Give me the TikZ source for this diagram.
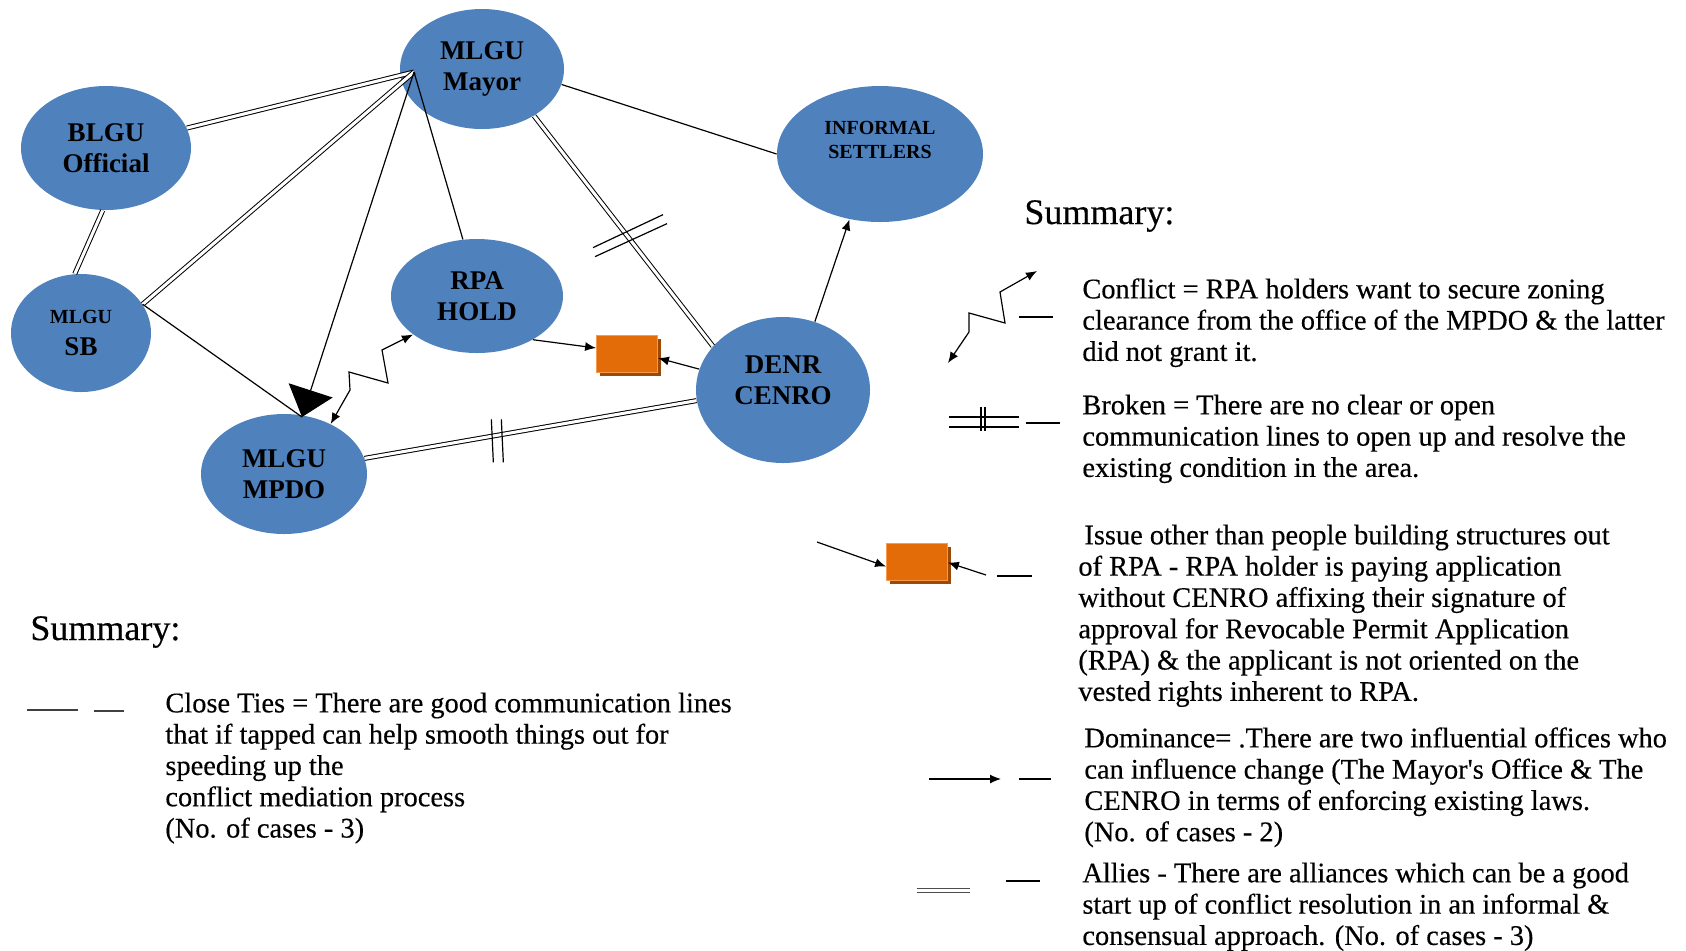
\documentclass[tikz,border=0pt]{standalone}
\usepackage{fontspec}
\setmainfont{Liberation Serif}
\newfontfamily\keyfont[FakeBold=0.35]{Liberation Serif}
\usetikzlibrary{arrows.meta,shapes.geometric,calc,shadows}
\definecolor{ActorBlue}{HTML}{4F81BD}
\definecolor{IssueOrange}{HTML}{E36C09}
\definecolor{IssueEdge}{HTML}{F59A4E}
\definecolor{IssueShade}{HTML}{9C4A06}

\tikzset{
  actor/.style={ellipse,fill=ActorBlue,inner sep=0pt,align=center,
    font=\fontsize{13.5}{15.6}\selectfont\bfseries},
  tie/.style={line width=0.6pt},
  ally/.style={line width=0.5pt,double,double distance=1.5pt},
  issuebox/.style={rectangle,fill=IssueOrange,draw=IssueEdge,line width=0.4pt,
    minimum width=30.5pt,minimum height=18.5pt,
    drop shadow={shadow xshift=1.5pt,shadow yshift=-2pt,fill=IssueShade,opacity=1}},
  keytext/.style={anchor=north west,inner sep=0pt,align=left,
    font=\keyfont\fontsize{14.2}{15.65}\selectfont},
  keyhead/.style={anchor=west,inner sep=0pt,font=\keyfont\fontsize{18}{21}\selectfont},
}

\begin{document}
\begin{tikzpicture}[x=0.5pt,y=-0.5pt,>={Latex[length=5.5pt,width=4.5pt]}]
  \useasboundingbox (0,0) rectangle (1686,950);

  \node[actor,minimum width=82pt,minimum height=60pt] (mayor) at (482,69) {MLGU\\Mayor};
  \node[actor,minimum width=85pt,minimum height=62pt] (blgu) at (106,148) {BLGU\\Official};
  \node[actor,minimum width=70pt,minimum height=59pt] (sb) at (81,333) {{\fontsize{10}{12}\selectfont MLGU}\\SB};
  \node[actor,minimum width=86pt,minimum height=57pt] (rpa) at (477,296) {RPA\\HOLD};
  \node[actor,minimum width=83pt,minimum height=60pt] (mpdo) at (284,474) {MLGU\\MPDO};
  \node[actor,minimum width=87pt,minimum height=73pt] (denr) at (783,390) {DENR\\CENRO\rule[-10pt]{0pt}{0pt}};
  \node[actor,minimum width=103pt,minimum height=68pt,font=\fontsize{10}{11.8}\selectfont\bfseries]
    (settlers) at (880,154) {INFORMAL\\SETTLERS\rule[-14pt]{0pt}{0pt}};
  \node[issuebox] (issue) at (627,353.5) {};

  \coordinate (hub) at (414,72);
  \coordinate (mpdotip) at (302,417);

  \draw[ally] (blgu) -- (hub);
  \draw[ally] (blgu.267) -- (sb.96);
  \draw[ally] (sb.25) -- (hub);
  \draw[tie] (sb.25) -- (mpdotip);
  \draw[tie,-{Triangle[length=14pt,width=23pt]}] (hub) -- (mpdotip);
  \draw[tie] (hub) -- (rpa.104);
  \draw[tie] (mayor.349) -- (settlers.west);
  \draw[ally] (mayor.318) -- coordinate[pos=0.52] (cutA) (denr.148);
  \draw[tie] ($(cutA)+(-34,12)$) -- ($(cutA)+(36,-21)$);
  \draw[tie] ($(cutA)+(-32,21)$) -- ($(cutA)+(40,-12)$);
  \draw[tie,->] (denr.65) -- (settlers.245);
  \draw[tie,->] (rpa.322) -- ([yshift=2.75pt]issue.west);
  \draw[tie,->] (denr.166) -- ([yshift=-2.25pt]issue.east);
  \draw[ally] (mpdo.11) -- coordinate[pos=0.4] (cutB) (denr.187);
  \draw[tie] ($(cutB)+(-6,-16)$) -- ($(cutB)+(-4,27)$);
  \draw[tie] ($(cutB)+(4,-16)$) -- ($(cutB)+(6,27)$);
  \draw[tie,<->] (mpdo.47) -- (350,390) -- (349,372) -- (388,383) -- (382,350) -- (rpa.211);

  \node[keyhead] (sumright) at (1024,216) {Summary:};
  \node[keytext] (conflicttext) at (1082,276) {\strut Conflict = RPA holders want to secure zoning\\clearance from the office of the MPDO \& the latter\\did not grant it.};
  \draw[tie,<->] (948,363) -- (969,332) -- (969,313) -- (1005,323) -- (1000,292) -- (1037,271);
  \draw[tie] (1019,317) -- (1053,317);

  \node[keytext] (brokentext) at (1082,392) {\strut Broken = There are no clear or open\\communication lines to open up and resolve the\\existing condition in the area.};
  \draw[tie] (949,417) -- (1019,417);
  \draw[tie] (949,427) -- (1019,427);
  \draw[tie] (981,407) -- (981,431);
  \draw[tie] (985,407) -- (985,431);
  \draw[tie] (1026,423) -- (1060,423);

  \node[issuebox] (issuekey) at (917,561.5) {};
  \draw[tie,->] (817,542) -- ([yshift=-2.5pt]issuekey.west);
  \draw[tie,->] (986,575) -- ([yshift=-0.5pt]issuekey.east);
  \draw[tie] (997,576) -- (1032,576);
  \node[keytext] (issuetext) at (1078,522) {\strut\hspace{3pt}Issue other than people building structures out\\of RPA - RPA holder is paying application\\without CENRO affixing their signature of\\approval for Revocable Permit Application\\(RPA) \& the applicant is not oriented on the\\vested rights inherent to RPA.};

  \node[keytext] (dominancetext) at (1084,725) {\strut Dominance= .There are two influential offices who\\can influence change (The Mayor's Office \& The\\CENRO in terms of enforcing existing laws.\\(No. of cases - 2)};
  \draw[tie,->] (929,779) -- (1001,779);
  \draw[tie] (1019,779) -- (1051,779);

  \node[keytext] (alliestext) at (1082,860) {\strut Allies - There are alliances which can be a good\\start up of conflict resolution in an informal \&\\consensual approach. (No. of cases - 3)};
  \draw[ally,black!70] (917,890) -- (970,890);
  \draw[tie] (1006,881) -- (1040,881);

  \node[keyhead] (sumleft) at (30,632) {Summary:};
  \node[keytext] (tiestext) at (165,690) {\strut Close Ties = There are good communication lines\\that if tapped can help smooth things out for\\speeding up the\\conflict mediation process\\(No. of cases - 3)};
  \draw[tie,black!75] (27,710) -- (78,710);
  \draw[tie,black!75] (94,711) -- (124,711);
\end{tikzpicture}
\end{document}
